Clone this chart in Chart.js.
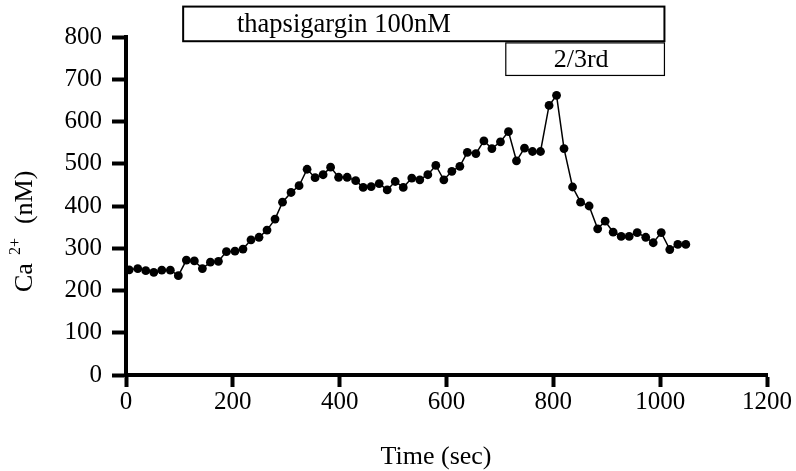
<!DOCTYPE html>
<html>
<head>
<meta charset="utf-8">
<script src="https://cdn.jsdelivr.net/npm/chart.js@4.4.1/dist/chart.umd.min.js"></script>
<style>
  html, body { margin: 0; padding: 0; background: #fff; }
  #wrap { width: 796px; height: 471px; }
</style>
</head>
<body>
<div id="wrap"><canvas id="caChart" width="796" height="471"></canvas></div>
<script>
// time points (sec)
const times = [6, 22, 37, 52, 67, 83, 98, 113, 128, 143,
  158, 173, 188, 204, 219, 234, 249, 264, 279, 293,
  309, 324, 339, 354, 369, 383, 398, 414, 430, 444,
  459, 474, 489, 504, 519, 535, 550, 565, 580, 595,
  610, 625, 639, 655, 670, 685, 701, 716, 731, 746,
  761, 776, 792, 806, 820, 836, 851, 867, 883, 897,
  912, 927, 942, 957, 973, 987, 1002, 1018, 1033, 1048];

// Ca2+ (nM)
const caValues = [249, 252, 247, 243, 248, 248, 235, 272, 270, 252,
  267, 269, 292, 293, 298, 320, 326, 343, 369, 409,
  432, 448, 487, 467, 474, 492, 468, 468, 460, 444,
  446, 453, 438, 458, 444, 466, 462, 474, 496, 462,
  482, 494, 527, 524, 554, 536, 552, 576, 507, 537,
  529, 529, 638, 662, 536, 445, 409, 400, 346, 364,
  338, 328, 328, 337, 326, 313, 337, 297, 309, 309];

// treatment bars: [label, start sec, end sec]
const thapsiBar = ["thapsigargin 100nM", 107, 1008];
const dilutionBar = ["2/3rd", 711, 1008];

const serif = "'Liberation Serif', 'Times New Roman', serif";

const points = times.map(function(t, i){
	return { x: t, y: caValues[i] };
});

// boxes, labels and axis titles
const extras = {
	id: "extras",
	afterDraw: function(chart){
		const ctx = chart.ctx;
		const xs = chart.scales.x;
		const ys = chart.scales.y;
		ctx.save();
		ctx.fillStyle = "#000";
		ctx.strokeStyle = "#000";

		// thapsigargin bar
		let x1 = xs.getPixelForValue(thapsiBar[1]);
		let x2 = xs.getPixelForValue(thapsiBar[2]);
		let yT = ys.getPixelForValue(872);
		let yB = ys.getPixelForValue(790);
		ctx.lineWidth = 2;
		ctx.strokeRect(x1, yT, x2 - x1, yB - yT);
		ctx.font = "26.5px " + serif;
		ctx.textAlign = "left";
		ctx.textBaseline = "middle";
		ctx.fillText(thapsiBar[0], 237, (yT + yB) / 2 + 1);

		// 2/3rd bar
		x1 = xs.getPixelForValue(dilutionBar[1]);
		x2 = xs.getPixelForValue(dilutionBar[2]);
		yT = ys.getPixelForValue(786);
		yB = ys.getPixelForValue(709);
		ctx.lineWidth = 1.2;
		ctx.strokeRect(x1, yT, x2 - x1, yB - yT);
		ctx.font = "26px " + serif;
		ctx.textAlign = "center";
		ctx.fillText(dilutionBar[0], (x1 + x2) / 2 - 4, (yT + yB) / 2 + 1);

		// x title
		ctx.font = "26px " + serif;
		ctx.textAlign = "center";
		ctx.textBaseline = "middle";
		ctx.fillText("Time (sec)", 436, 457);

		// y title, rotated, with superscript
		ctx.translate(32, 292);
		ctx.rotate(-Math.PI / 2);
		ctx.textAlign = "left";
		ctx.textBaseline = "alphabetic";
		ctx.font = "26px " + serif;
		ctx.fillText("Ca", 0, 0);
		let w = ctx.measureText("Ca").width;
		ctx.font = "16px " + serif;
		ctx.fillText("2+", w + 8, -12);
		w += 8 + ctx.measureText("2+").width;
		ctx.font = "26px " + serif;
		ctx.fillText("(nM)", w + 14, 0);
		ctx.restore();
	}
};

const ctx1 = document.getElementById("caChart");
const config1 = {
	type: "line",
	data: {
		datasets: [{
			data: points,
			borderColor: "#000",
			backgroundColor: "#000",
			borderWidth: 1.5,
			pointRadius: 4.4,
			pointBackgroundColor: "#000",
			pointBorderWidth: 0,
			tension: 0
		}]
	},
	options: {
		responsive: false,
		animation: false,
		layout: {
			padding: { top: 37, right: 29, left: 0, bottom: 0 }
		},
		plugins: {
			legend: { display: false },
			tooltip: { enabled: false }
		},
		scales: {
			x: {
				type: "linear",
				min: 0,
				max: 1200,
				afterFit: function(s){ s.height = 96; },
				ticks: {
					stepSize: 200,
					color: "#000",
					padding: 0,
					maxRotation: 0,
					font: { family: serif, size: 25 },
					callback: function(v){ return String(v); }
				},
				grid: {
					drawOnChartArea: false,
					color: "#000",
					tickLength: 12,
					tickWidth: 4
				},
				border: { color: "#000", width: 4 }
			},
			y: {
				min: 0,
				max: 800,
				afterFit: function(s){ s.width = 126; },
				ticks: {
					stepSize: 100,
					color: "#000",
					padding: 10,
					font: { family: serif, size: 25 },
					callback: function(v){ return String(v); }
				},
				grid: {
					drawOnChartArea: false,
					color: "#000",
					tickLength: 14,
					tickWidth: 4
				},
				border: { color: "#000", width: 4 }
			}
		}
	},
	plugins: [extras]
};
const caChart = new Chart(ctx1, config1);
</script>
</body>
</html>
